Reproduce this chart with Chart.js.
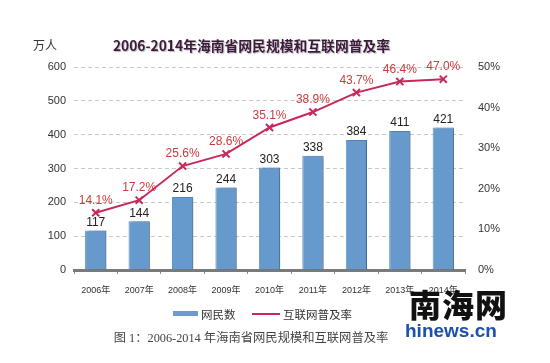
<!DOCTYPE html>
<html>
<head>
<meta charset="utf-8">
<script src="https://cdn.jsdelivr.net/npm/chart.js@4.4.0/dist/chart.umd.min.js"></script>
<style>
  html, body { margin: 0; padding: 0; background: #fff; }
  #wrap { position: relative; width: 550px; height: 363px; overflow: hidden; font-family: "Noto Sans CJK SC", "Liberation Sans", sans-serif; }
  #chart { position: absolute; left: 0; top: 0; }
  .abs { position: absolute; white-space: nowrap; }
  #title { left: 0; width: 503px; top: 35px; text-align: center; font-size: 13.8px; font-weight: bold; color: #3b1a3a; text-shadow: 1px 1px 1px #bbb; }
  #unit { left: 33px; top: 36px; font-size: 12px; color: #333; }
  #legend { left: 173px; top: 304px; font-size: 11.5px; color: #333; }
  #legend span { display: inline-block; vertical-align: middle; }
  #caption { left: 0; width: 502px; top: 328px; text-align: center; font-size: 12.3px; color: #444; font-family: "Liberation Serif", "Noto Sans CJK SC", serif; }
  #wm1 { left: 409px; top: 280px; font-size: 32px; font-weight: 900; color: #111; letter-spacing: 1px; }
  #wm2 { left: 405px; top: 320px; font-size: 19px; font-weight: bold; color: #1d4fb0; font-family: "Liberation Sans", sans-serif; }
</style>
</head>
<body>
<div id="wrap">
  <canvas id="chart" width="550" height="363"></canvas>
  <div class="abs" id="unit">万人</div>
  <div class="abs" id="title">2006-2014年海南省网民规模和互联网普及率</div>
  <div class="abs" id="legend">
    <span style="width:25px;height:5px;background:#6d9bd1;margin-right:3px;"></span><span>网民数</span>
    <span style="width:28px;height:2px;background:#c8285a;margin-left:14px;margin-right:3px;"></span><span>互联网普及率</span>
  </div>
  <div class="abs" id="caption">图 1：2006-2014 年海南省网民规模和互联网普及率</div>
  <div class="abs" id="wm1">南海网</div>
  <div class="abs" id="wm2">hinews.cn</div>
</div>
<script>
// 数据
const years = ['2006年', '2007年', '2008年', '2009年', '2010年', '2011年', '2012年', '2013年', '2014年'];
const netizens = [117, 144, 216, 244, 303, 338, 384, 411, 421]; // 万人
const penetration = [14.1, 17.2, 25.6, 28.6, 35.1, 38.9, 43.7, 46.4, 47.0]; // %
const leftTicks = [0, 100, 200, 300, 400, 500, 600];
const rightTicks = [0, 10, 20, 30, 40, 50];

// 柱子阴影
const barShadow = {
  id: 'barShadow',
  beforeDatasetDraw(chart, args) {
    if (args.index !== 0) return;
    const c = chart.ctx;
    c.save();
    c.shadowColor = 'rgba(0,0,0,0.3)';
    c.shadowOffsetX = 3;
    c.shadowOffsetY = 0;
    c.shadowBlur = 2;
  },
  afterDatasetDraw(chart, args) {
    if (args.index !== 0) return;
    chart.ctx.restore();
  }
};

// 数据标签
const valueLabels = {
  id: 'valueLabels',
  afterDatasetsDraw(chart) {
    const c = chart.ctx;
    c.save();
    c.textAlign = 'center';
    c.textBaseline = 'bottom';
    const bars = chart.getDatasetMeta(0).data;
    c.font = '12px "Liberation Sans", sans-serif';
    c.fillStyle = '#222';
    bars.forEach((b, i) => c.fillText(netizens[i], b.x, b.y - 2));
    const pts = chart.getDatasetMeta(1).data;
    c.fillStyle = '#d2383c';
    pts.forEach((p, i) => c.fillText(penetration[i].toFixed(1) + '%', p.x, p.y - 6));
    c.restore();
  }
};

const ctx = document.getElementById('chart').getContext('2d');
new Chart(ctx, {
  data: {
    labels: years,
    datasets: [
      {
        type: 'bar',
        label: '网民数',
        data: netizens,
        backgroundColor: '#6699cc',
        borderColor: '#5b8fc7',
        borderWidth: 1,
        categoryPercentage: 1,
        barPercentage: 0.49,
        yAxisID: 'y',
        order: 2
      },
      {
        type: 'line',
        label: '互联网普及率',
        data: penetration,
        borderColor: '#c8285a',
        borderWidth: 2,
        pointStyle: 'crossRot',
        pointRadius: 5,
        pointBorderWidth: 2,
        pointBorderColor: '#c8285a',
        pointBackgroundColor: '#c8285a',
        tension: 0,
        yAxisID: 'y1',
        order: 1
      }
    ]
  },
  options: {
    responsive: false,
    animation: false,
    layout: { padding: { top: 67, bottom: 63, left: 0, right: 0 } },
    plugins: { legend: { display: false }, tooltip: { enabled: false } },
    scales: {
      x: {
        offset: true,
        grid: { display: true, drawOnChartArea: false, offset: true, tickLength: 4, color: '#888' },
        border: { display: true, color: '#7a7a7a', width: 3 },
        ticks: { color: '#333', font: { size: 9, family: '"Liberation Sans", "Noto Sans CJK SC", sans-serif' }, padding: 11 },
        afterFit(s) { s.height = 30; }
      },
      y: {
        position: 'left',
        min: 0, max: 600,
        afterBuildTicks(s) { s.ticks = leftTicks.map(v => ({ value: v })); },
        grid: { color: '#c8c8c8', drawTicks: false },
        border: { display: false, dash: [4, 3] },
        ticks: { color: '#333', font: { size: 11, family: '"Liberation Sans", sans-serif' }, padding: 8 },
        afterFit(s) { s.width = 74; }
      },
      y1: {
        position: 'right',
        min: 0, max: 50,
        afterBuildTicks(s) { s.ticks = rightTicks.map(v => ({ value: v })); },
        grid: { display: false, drawTicks: false },
        border: { display: false },
        ticks: { color: '#333', font: { size: 11, family: '"Liberation Sans", sans-serif' }, padding: 13, callback: v => v + '%' },
        afterFit(s) { s.width = 85; }
      }
    }
  },
  plugins: [barShadow, valueLabels]
});
</script>
</body>
</html>
